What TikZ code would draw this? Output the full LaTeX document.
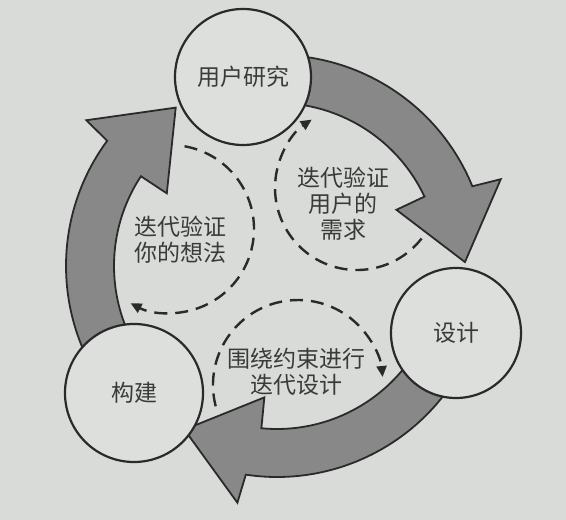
\documentclass[tikz,border=0pt]{standalone}
\usepackage{fontspec}
\newfontfamily\cjk{Noto Sans CJK SC}
\usetikzlibrary{arrows.meta}
\definecolor{bg}{HTML}{D8DBD8}
\definecolor{circfill}{HTML}{DCDFDC}
\definecolor{band}{HTML}{888888}
\definecolor{ink}{HTML}{2A2A2A}
\definecolor{txt}{HTML}{3A3A3A}
\begin{document}
\begin{tikzpicture}[x=1pt,y=1pt,
  stage/.style={circle, draw=ink, line width=2.2pt, fill=circfill, inner sep=0pt, text=txt, font=\cjk\fontsize{23}{26}\selectfont},
  cyclearrow/.style={draw=ink, line width=1.8pt, fill=band, line join=miter},
  loopline/.style={draw=ink, line width=2.4pt, dash pattern=on 13pt off 8pt, -{Triangle[length=11pt,width=10pt]}},
  looptext/.style={text=txt, align=center, font=\cjk\fontsize{23}{26}\selectfont}]
\fill[bg] (0,0) rectangle (566,520);
\useasboundingbox (0,0) rectangle (566,520);
\coordinate (O) at (277,254);
% big cycle arrows
\foreach \s in {100.2,-20.5,221.6} {
  \draw[cyclearrow] ([shift={(\s:211)}]O) arc[start angle=\s, end angle=\s-78, radius=211]
    -- ([shift={({\s-79}:240)}]O) -- ([shift={({\s-99}:188)}]O) -- ([shift={({\s-75}:132)}]O)
    -- ([shift={({\s-75}:163)}]O) arc[start angle=\s-75, end angle=\s, radius=163] -- cycle;
}
% stage circles
\node[stage, minimum size=136pt] (research) at (243,443) {用户研究};
\node[stage, minimum size=130pt] (design) at (456,187) {设计};
\node[stage, minimum size=138pt] (build) at (134,127) {构建};
% dashed loops
\coordinate (c1) at (170,291);
\draw[loopline] ([shift={(80:84)}]c1) arc[start angle=80, end angle=-118, radius=84];
\coordinate (c2) at (357,332);
\draw[loopline] ([shift={(-38:82)}]c2) arc[start angle=-38, end angle=-236.5, radius=82];
\coordinate (c3) at (298,135);
\draw[loopline] ([shift={(194.5:85)}]c3) arc[start angle=194.5, end angle=5.4, radius=85];
% loop labels
\node[looptext] (t1) at (180,280) {迭代验证\\你的想法};
\node[looptext] (t2) at (343,316) {迭代验证\\用户的\\需求};
\node[looptext] (t3) at (296,148) {围绕约束进行\\迭代设计};
\end{tikzpicture}
\end{document}
